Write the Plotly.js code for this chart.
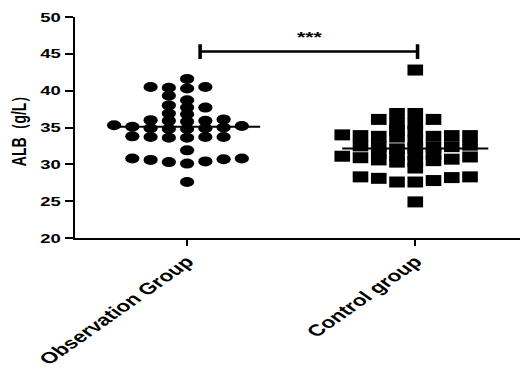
<!DOCTYPE html>
<html>
<head>
<meta charset="utf-8">
<script src="https://cdn.plot.ly/plotly-3.0.1.min.js"></script>
<style>
html,body{margin:0;padding:0;background:#fff;overflow:hidden;}
#wrap{width:520px;height:369px;overflow:hidden;}
#chart{width:366px;height:369px;transform:scaleX(1.42077);transform-origin:0 0;}
</style>
</head>
<body>
<div id="wrap"><div id="chart"></div></div>
<script>
const categories = ['Observation Group', 'Control group'];
const observation = [41.6, 40.5, 40.3, 40.4, 40.5, 39.3, 38.7, 37.7, 38.0, 37.7, 36.8, 36.9,
  36.0, 35.9, 35.9, 36.1, 35.8, 35.3, 34.9, 35.0, 34.8, 35.1, 34.9, 35.2, 34.8,
  33.7, 33.6, 33.8, 33.7, 33.6, 33.7, 31.9, 30.8, 30.6, 30.3, 30.1, 30.4, 30.7, 30.8, 27.6];
const control = [42.8, 36.9, 36.9, 36.1, 36.1, 35.5, 35.5, 34.5, 34.6, 33.9, 33.7, 33.9, 34.0,
  33.8, 33.9, 33.8, 33.2, 32.6, 32.4, 32.5, 32.3, 32.2, 32.4, 32.1, 31.5, 31.3, 31.4, 31.2,
  31.1, 31.0, 30.9, 30.6, 30.3, 30.5, 30.7, 30.4, 29.5, 28.3, 28.2, 27.6, 27.6, 27.8, 28.1, 28.3, 24.9];
const yTicks = [20, 25, 30, 35, 40, 45, 50];
const yTitle = 'ALB（g/L）';
const significance = '***';

// column-scatter layout: each point takes the column nearest the centre that is free at its height
function scatterX(values, center, h) {
  const sorted = values.slice().sort((a, b) => a - b);
  const step = 0.08;
  const placed = {};
  const xs = [], ys = [];
  sorted.forEach(v => {
    for (let k = 0; k < 50; k++) {
      const col = k === 0 ? 0 : (k % 2 ? -Math.ceil(k / 2) : Math.ceil(k / 2));
      const list = placed[col] || (placed[col] = []);
      if (list.every(u => Math.abs(u - v) >= h - 1e-9)) {
        list.push(v); xs.push(center + col * step); ys.push(v); break;
      }
    }
  });
  return {xs, ys};
}
const mean = a => a.reduce((s, v) => s + v, 0) / a.length;

const o = scatterX(observation, 0, 0.9);
const c = scatterX(control, 1, 0.9);
const mo = mean(observation), mc = mean(control);
const hw = 0.32;
const FONT = 'Liberation Sans, Arial, sans-serif';

const traces = [
  {x: o.xs, y: o.ys, type: 'scatter', mode: 'markers', marker: {symbol: 'circle', size: 10, color: '#000'}, cliponaxis: false},
  {x: c.xs, y: c.ys, type: 'scatter', mode: 'markers', marker: {symbol: 'square', size: 11, color: '#000'}, cliponaxis: false},
  {x: [0 - hw, 0 + hw], y: [mo, mo], type: 'scatter', mode: 'lines', line: {color: '#000', width: 2}},
  {x: [1 - hw, 1 + hw], y: [mc, mc], type: 'scatter', mode: 'lines', line: {color: '#000', width: 2}}
];

const barY = 45.3, x0 = 0.057, x1 = 1.01;
const layout = {
  width: 366, height: 369,
  margin: {l: 53, r: 0, t: 17, b: 131},
  paper_bgcolor: '#fff', plot_bgcolor: '#fff',
  showlegend: false,
  font: {family: FONT, color: '#000'},
  xaxis: {
    range: [-0.49, 1.459], tickvals: [0, 1], ticktext: categories.map(t => '<b>' + t + '</b>'), tickangle: -45,
    showline: true, linecolor: '#000', linewidth: 2, ticks: 'outside', ticklen: 6, tickwidth: 1.6, tickcolor: '#000',
    showgrid: false, zeroline: false,
    tickfont: {family: FONT, size: 16, color: '#000'}
  },
  yaxis: {
    range: [20, 50], tickvals: yTicks, ticktext: yTicks.map(t => '<b>' + t + '</b>'),
    showline: true, linecolor: '#000', linewidth: 1.6, ticks: 'outside', ticklen: 6, tickwidth: 2, tickcolor: '#000',
    showgrid: false, zeroline: false,
    tickfont: {family: FONT, size: 13, color: '#000'},
    title: {text: '<b>' + yTitle + '</b>', standoff: 6, font: {family: FONT, size: 14, color: '#000'}}
  },
  shapes: [
    {type: 'line', xref: 'x', yref: 'y', x0: x0, x1: x1, y0: barY, y1: barY, line: {color: '#000', width: 2.5}},
    {type: 'line', xref: 'x', yref: 'y', x0: x0, x1: x0, y0: barY - 1, y1: barY + 1, line: {color: '#000', width: 2.5}},
    {type: 'line', xref: 'x', yref: 'y', x0: x1, x1: x1, y0: barY - 1, y1: barY + 1, line: {color: '#000', width: 2.5}}
  ],
  annotations: [
    {x: 0.54, y: barY + 2.0, xref: 'x', yref: 'y', text: '<b>' + significance + '</b>', showarrow: false,
     font: {family: FONT, size: 15, color: '#000'}}
  ]
};
Plotly.newPlot('chart', traces, layout, {staticPlot: true, displayModeBar: false});
</script>
</body>
</html>
